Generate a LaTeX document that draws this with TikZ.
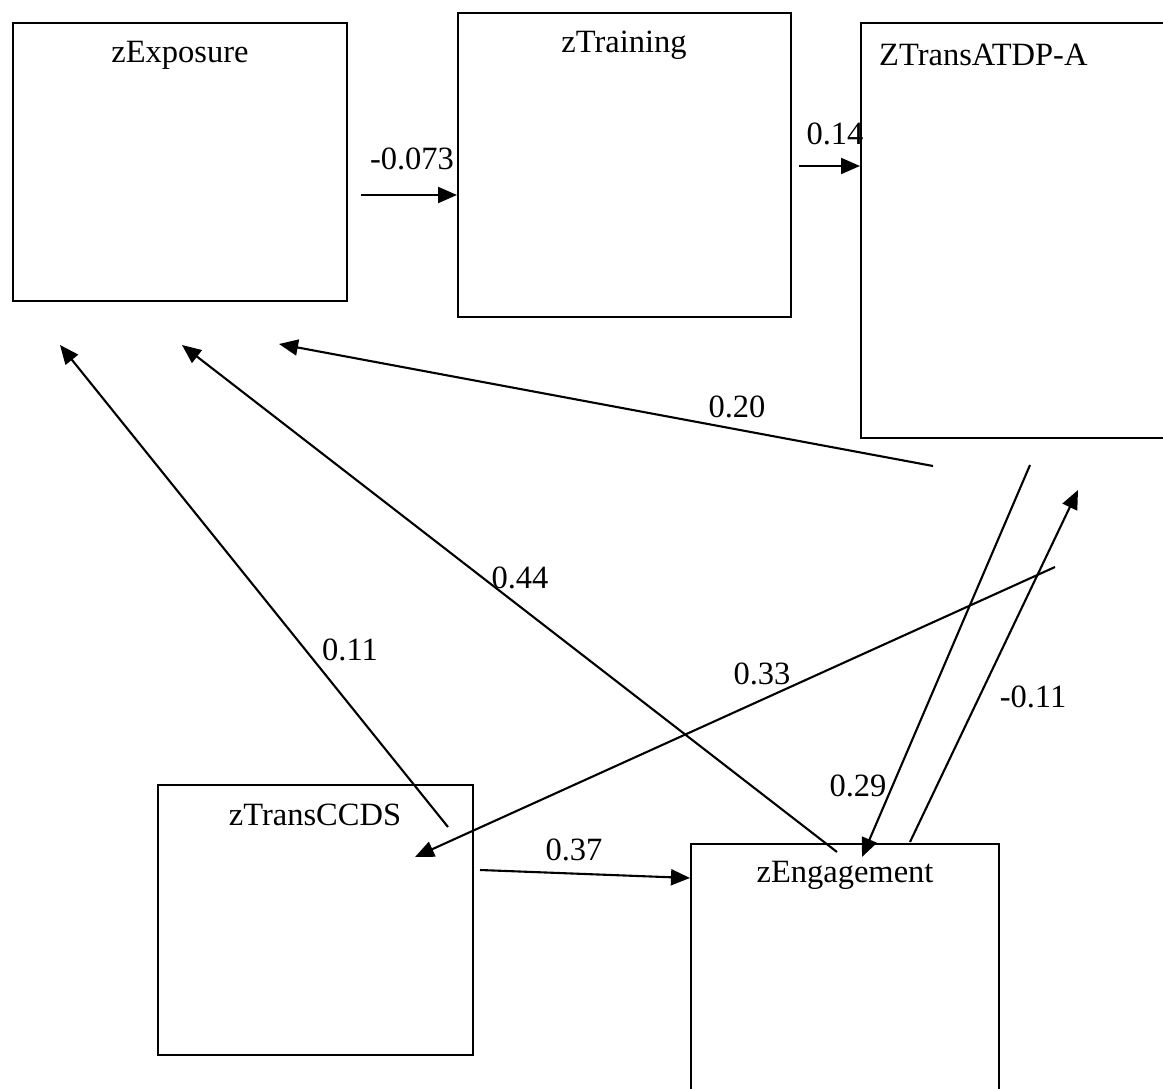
\documentclass[tikz,border=0pt]{standalone}
\usepackage{fontspec}
\setmainfont{Liberation Serif}
\usetikzlibrary{arrows.meta}
\begin{document}
\begin{tikzpicture}[x=1pt,y=-1pt,
  box/.style={draw,line width=2.2pt,rectangle,inner sep=0pt},
  lbl/.style={font=\fontsize{32.5}{32.5}\selectfont,inner sep=0pt},
  path/.style={line width=2.1pt,-{Triangle[length=19pt,width=16pt]}},
  bare/.style={line width=2.1pt}]
\clip (0,0) rectangle (1163,1089);
\fill[white] (0,0) rectangle (1163,1089);

% variable boxes
\node[box,anchor=north west,minimum width=334pt,minimum height=278pt] (exp) at (12,22) {};
\node[box,anchor=north west,minimum width=333pt,minimum height=304pt] (trn) at (457,12) {};
\node[box,anchor=north west,minimum width=330pt,minimum height=415pt] (atdp) at (860,22) {};
\node[box,anchor=north west,minimum width=315pt,minimum height=270pt] (ccds) at (157,784) {};
\node[box,anchor=north west,minimum width=308pt,minimum height=280pt] (eng) at (690,843) {};

% box titles
\node[lbl] (expT) at (180,55) {zExposure};
\node[lbl] (trnT) at (624,45) {zTraining};
\node[lbl,anchor=west] (atdpT) at (879,55) {ZTransATDP-A};
\node[lbl] (ccdsT) at (315,815) {zTransCCDS};
\node[lbl] (engT) at (845,875) {zEngagement};

% path end points
\coordinate (a1) at (361,195);
\coordinate (a2) at (trn.west |- a1);
\coordinate (b1) at (799,166);
\coordinate (b2) at (atdp.west |- b1);
\coordinate (c1) at (933,466);
\coordinate (c2) at (279,344);
\coordinate (d1) at (837,852);
\coordinate (d2) at (182,345);
\coordinate (e1) at (448,827);
\coordinate (e2) at (60,345);
\coordinate (f1) at (1055,567);
\coordinate (f2) at (415,857);
\coordinate (g1) at (1030,465);
\coordinate (g2) at (862,857);
\coordinate (h1) at (910,842);
\coordinate (h2) at (1078,490);
\coordinate (i1) at (480,870);
\coordinate (i2) at (eng.west |- 0,878);

% paths
\draw[path] (a1) -- (a2);
\draw[path] (b1) -- (b2);
\draw[path] (c1) -- (c2);
\draw[path] (d1) -- (d2);
\draw[path] (e1) -- (e2);
\draw[path] (f1) -- (f2);
\draw[path] (g1) -- (g2);
\draw[path] (h1) -- (h2);
\draw[path] (i1) -- (i2);

% coefficients
\node[lbl] (la) at (412,159) {-0.073};
\node[lbl] (lb) at (835,134) {0.14};
\node[lbl] (lc) at (737,407) {0.20};
\node[lbl] (ld) at (520,578) {0.44};
\node[lbl] (le) at (350,650) {0.11};
\node[lbl] (lf) at (762,674) {0.33};
\node[lbl] (lg) at (858,786) {0.29};
\node[lbl] (lh) at (1033,697) {-0.11};
\node[lbl] (li) at (574,850) {0.37};
\end{tikzpicture}
\end{document}
